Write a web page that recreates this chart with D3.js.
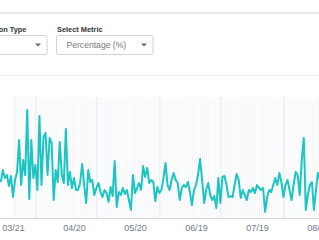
<!DOCTYPE html>
<html>
<head>
<meta charset="utf-8">
<script src="https://cdn.jsdelivr.net/npm/d3@7"></script>
<style>
  html, body { margin: 0; padding: 0; background: #ffffff; overflow: hidden; }
  svg { display: block; font-family: "Liberation Sans", Arial, Helvetica, sans-serif; }
</style>
</head>
<body>
<div id="chart"></div>
<script>
// daily series, starting 2020-03-15
const startDate = "2020-03-15";
const values = [
  2.38, 3.17, 2.64, 2.84, 2.12, 2.78, 1.39, 2.51, 3.04, 5.16,
  2.18, 3.83, 2.84, 7.14, 1.26, 5.16, 2.64, 3.50, 1.85, 6.74,
  2.18, 5.36, 5.62, 2.84, 5.29, 4.96, 1.19, 3.17, 2.38, 5.02,
  2.84, 2.31, 5.88, 2.18, 3.04, 1.98, 2.64, 1.85, 1.85, 2.31,
  3.57, 2.18, 0.99, 3.17, 2.38, 2.51, 1.52, 1.98, 2.31, 1.72,
  1.39, 1.85, 1.65, 1.06, 2.05, 1.45, 3.77, 0.73, 1.72, 1.52,
  1.98, 1.59, 1.85, 1.19, 0.53, 2.84, 1.65, 1.98, 2.31, 1.85,
  3.44, 2.71, 3.31, 2.31, 2.51, 2.38, 1.12, 2.05, 1.65, 1.85,
  2.64, 3.64, 2.18, 1.85, 2.51, 2.98, 2.51, 2.31, 1.19, 1.98,
  2.18, 2.05, 2.38, 1.72, 0.86, 1.85, 2.18, 2.84, 3.90, 2.51,
  0.99, 1.85, 2.31, 1.52, 1.19, 1.45, 0.66, 2.64, 0.99, 2.71,
  2.78, 2.18, 1.39, 1.45, 1.39, 2.18, 2.91, 2.51, 1.32, 1.85,
  1.52, 1.19, 1.85, 1.72, 1.98, 1.65, 2.18, 1.98, 1.85, 1.98,
  0.40, 1.39, 1.85, 1.72, 2.18, 2.64, 2.18, 2.98, 2.38, 1.39,
  2.18, 2.51, 1.85, 1.19, 2.18, 3.04, 2.84, 1.52, 3.83, 5.29,
  0.53, 1.52, 2.18, 2.38, 0.53, 1.85, 2.98, 2.51
];
const xTickDates = ["2020-03-21", "2020-04-20", "2020-05-20", "2020-06-19", "2020-07-19", "2020-08-18"];
const yTicks = [0, 2, 4, 6, 8];
const metricLabel = "Select Metric";
const metricValue = "Percentage (%)";
const typeLabel = "Location Type";

const W = 319, H = 240;
const parse = d3.utcParse("%Y-%m-%d");
const t0 = parse(startDate);
const data = values.map((v, i) => ({ date: d3.utcDay.offset(t0, i), value: v }));
const tickDates = xTickDates.map(parse);

const svg = d3.select("#chart").append("svg")
  .attr("width", W)
  .attr("height", H);

// header strip with shadow
const defs = svg.append("defs");
const sh = defs.append("linearGradient").attr("id", "shadow").attr("x1", 0).attr("x2", 0).attr("y1", 0).attr("y2", 1);
sh.append("stop").attr("offset", "0%").attr("stop-color", "#e2e2e2");
sh.append("stop").attr("offset", "100%").attr("stop-color", "#ffffff");
svg.append("rect").attr("x", 0).attr("y", 12).attr("width", W).attr("height", 3).attr("fill", "url(#shadow)");
svg.append("line").attr("x1", 0).attr("x2", W).attr("y1", 12.5).attr("y2", 12.5).attr("stroke", "#e6e6e6");

// controls
const controls = svg.append("g").attr("class", "controls");
controls.append("text").attr("x", 26.5).attr("y", 31.5).attr("text-anchor", "end")
  .attr("font-size", "7.4px").attr("font-weight", "bold").attr("fill", "#333").text(typeLabel);
controls.append("text").attr("x", 57).attr("y", 31.5)
  .attr("font-size", "7.4px").attr("font-weight", "bold").attr("fill", "#333").text(metricLabel);

function dropdown(x, w, label) {
  const g = controls.append("g").attr("transform", `translate(${x},35.5)`);
  g.append("rect").attr("width", w).attr("height", 19).attr("rx", 2)
    .attr("fill", "#fff").attr("stroke", "#d2d2d2");
  if (label) {
    g.append("text").attr("x", 10).attr("y", 12.8).attr("font-size", "8.6px")
      .attr("fill", "#777").text(label);
  }
  g.append("path").attr("d", `M${w - 12},8 l3,3 l3,-3 z`).attr("fill", "#666");
}
dropdown(-60, 107, null);
dropdown(56.5, 96.5, metricValue);

// panel border
svg.append("line").attr("x1", 0).attr("x2", W).attr("y1", 75.5).attr("y2", 75.5).attr("stroke", "#eeeeee");

// scales
const x = d3.scaleUtc()
  .domain([tickDates[0], tickDates[tickDates.length - 1]])
  .range([13, 318]);
const y = d3.scaleLinear().domain([0, 8]).range([218, 97]);

const plot = svg.append("g");

// daily vertical grid
plot.append("g")
  .attr("transform", "translate(0,218)")
  .call(d3.axisBottom(x).ticks(d3.utcDay.every(1)).tickSize(-121).tickFormat(""))
  .call(g => g.select(".domain").remove())
  .call(g => g.selectAll("line").attr("stroke", "#f4f6f9"));

// month boundaries
plot.append("g")
  .attr("transform", "translate(0,218)")
  .call(d3.axisBottom(x).ticks(d3.utcMonth.every(1)).tickSize(-121).tickFormat(""))
  .call(g => g.select(".domain").remove())
  .call(g => g.selectAll("line").attr("stroke", "#e6e9ed"));

// horizontal grid
plot.append("g")
  .call(d3.axisLeft(y).tickValues(yTicks).tickSize(-W).tickFormat(""))
  .attr("transform", `translate(${W},0)`)
  .call(g => g.select(".domain").remove())
  .call(g => g.selectAll("line").attr("stroke", "#e8e8e8"));

// x axis labels
plot.append("g")
  .attr("transform", "translate(0,218)")
  .call(d3.axisBottom(x).tickValues(tickDates).tickSize(0).tickPadding(7).tickFormat(d3.utcFormat("%m/%d")))
  .call(g => g.select(".domain").attr("stroke", "#d6d6d6").attr("d", `M0,0.5H${W}`))
  .call(g => g.selectAll("text").attr("font-size", "9px").attr("fill", "#6f7b88")
    .attr("font-family", "'Liberation Sans', Arial, sans-serif"));

// series line
const line = d3.line()
  .x(d => x(d.date))
  .y(d => y(d.value));

plot.append("path")
  .datum(data)
  .attr("fill", "none")
  .attr("stroke", "#1cc5c1")
  .attr("stroke-width", 2)
  .attr("stroke-linejoin", "round")
  .attr("d", line);
</script>
</body>
</html>
